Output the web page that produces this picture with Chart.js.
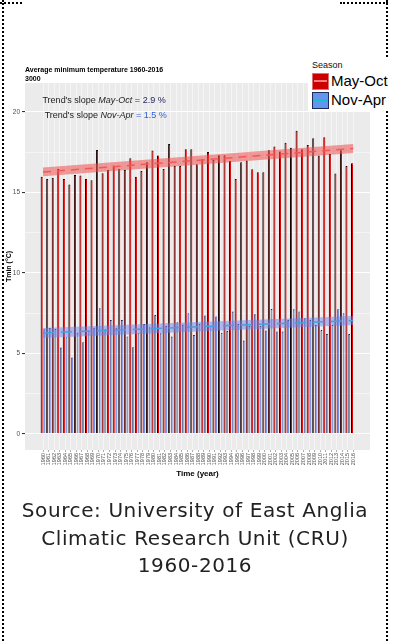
<!DOCTYPE html>
<html>
<head>
<meta charset="utf-8">
<script src="https://cdn.jsdelivr.net/npm/chart.js@4.4.0/dist/chart.umd.min.js"></script>
<style>
  html, body { margin: 0; padding: 0; background: #fff; width: 405px; height: 641px; overflow: hidden; }
  body { position: relative; font-family: "DejaVu Sans", sans-serif; }
  #chart { position: absolute; left: 0; top: 0; }
  .dots { position: absolute; border-color: #3a3a3a; }
  #frameL { left: 2px; top: 0; height: 641px; border-left: 2px dotted; }
  #frameR { left: 386px; top: 0; height: 641px; border-left: 2px dotted; }
  #frameT1 { left: 0; top: 2px; width: 22px; border-top: 2px dotted; }
  #frameT2 { left: 340px; top: 2px; width: 48px; border-top: 2px dotted; }
  #legend { position: absolute; left: 308px; top: 57px; width: 80px; height: 54px; background: #fff; overflow: hidden; font-family: "Liberation Sans", Arial, sans-serif; }
  #legend .ttl { position: absolute; left: 4px; top: 3px; font-size: 9px; color: #111; }
  #legend .key { position: absolute; left: 4px; width: 15px; height: 15px; box-sizing: content-box; }
  #legend .key i { position: absolute; left: 1px; right: 1px; top: 6px; height: 2px; }
  #legend .lbl { position: absolute; left: 23px; font-size: 15px; color: #000; white-space: nowrap; }
  #source { position: absolute; left: 3px; width: 384px; top: 497px; text-align: center; font-size: 20px; letter-spacing: 0.6px; line-height: 27.5px; color: #222; }
</style>
</head>
<body>
<canvas id="chart" width="405" height="480"></canvas>

<div class="dots" id="frameL"></div>
<div class="dots" id="frameR"></div>
<div class="dots" id="frameT1"></div>
<div class="dots" id="frameT2"></div>

<div id="legend">
  <div class="ttl">Season</div>
  <div class="key" style="top:16px; background:#cc0000; border:1px solid #e07070;"><i style="background:#ff7b7b"></i></div>
  <div class="lbl" style="top:15px;">May-Oct</div>
  <div class="key" style="top:35px; background:#6495ed; border:1px solid #1d2b5e;"><i style="background:#14c0cc"></i></div>
  <div class="lbl" style="top:34px;">Nov-Apr</div>
</div>

<div id="source">Source: University of East Anglia<br>Climatic Research Unit (CRU)<br>1960-2016</div>

<script>
// years on the x axis
const years = [1960, 1961, 1962, 1963, 1964, 1965, 1966, 1967, 1968, 1969,
  1970, 1971, 1972, 1973, 1974, 1975, 1976, 1977, 1978, 1979,
  1980, 1981, 1982, 1983, 1984, 1985, 1986, 1987, 1988, 1989,
  1990, 1991, 1992, 1993, 1994, 1995, 1996, 1997, 1998, 1999,
  2000, 2001, 2002, 2003, 2004, 2005, 2006, 2007, 2008, 2009,
  2010, 2011, 2012, 2013, 2014, 2015, 2016];

// Tmin (°C) May-Oct
const mayOct = [15.98, 15.84, 15.92, 16.46, 15.84, 15.5, 16.09, 16.05, 15.84, 15.76,
  17.64, 16.19, 16.4, 16.67, 16.48, 16.4, 17.12, 15.98, 16.33, 16.88,
  17.6, 17.29, 16.46, 18.01, 16.65, 16.65, 17.68, 17.68, 16.75, 17.06,
  17.52, 17.02, 17.31, 17.31, 16.96, 15.84, 16.88, 16.98, 16.44, 16.25,
  16.25, 17.62, 17.85, 17.54, 18.09, 17.78, 18.84, 17.68, 17.95, 18.37,
  17.29, 18.43, 17.39, 16.17, 17.62, 16.65, 16.81];

// Tmin (°C) Nov-Apr (2016 season not complete)
const novApr = [6.5, 6.6, 6.52, 5.37, 6.0, 4.75, 6.29, 5.7, 6.43, 6.6,
  7.8, 6.5, 7.08, 6.6, 7.08, 6.05, 5.38, 6.25, 6.83, 6.63,
  7.39, 6.25, 6.7, 6.05, 6.94, 6.8, 7.5, 6.15, 6.83, 7.35,
  6.7, 7.29, 6.29, 6.4, 7.6, 6.83, 5.8, 6.7, 7.43, 6.7,
  6.42, 7.76, 6.36, 6.36, 7.08, 7.75, 7.6, 7.19, 7.08, 6.77,
  6.46, 6.21, 6.77, 7.75, 7.5, 6.21, null];

// trend lines + confidence band, at first and last year
const trendYears = [1960, 2016];
const mayOctTrend = [16.27, 17.73];
const mayOctBandLow = [16.0, 17.45];
const mayOctBandHigh = [16.55, 18.01];
const novAprTrend = [6.27, 7.04];
const novAprBandLow = [5.96, 6.77];
const novAprBandHigh = [6.58, 7.33];

const yTicks = [0, 2.5, 5, 7.5, 10, 12.5, 15, 17.5, 20];

const titleText = "Average minimum temperature 1960-2016";
const subTitleText = "3000";
const slopeLines = [
  ["Trend's slope ", "May-Oct", " = 2.9 %", "#1c1f5c"],
  ["Trend's slope ", "Nov-Apr", " = 1.5 %", "#2f5fd0"]
];

const FONT = '"Liberation Sans", Arial, sans-serif';

// {x,y} points for linear x axis
function toPoints(xs, ys) {
  return xs.map((x, i) => ({ x: x, y: ys[i] }));
}

// grey ggplot panel
const panelBg = {
  id: 'panelBg',
  beforeDraw(chart) {
    const a = chart.chartArea, ctx = chart.ctx;
    ctx.save();
    ctx.fillStyle = '#ebebeb';
    ctx.fillRect(a.left, a.top, a.right - a.left, a.bottom - a.top);
    ctx.restore();
  }
};

// title and slope notes
const textLayer = {
  id: 'textLayer',
  afterDraw(chart) {
    const ctx = chart.ctx, a = chart.chartArea;
    const xs = chart.scales.x, ys = chart.scales.y;
    ctx.save();
    ctx.textBaseline = 'alphabetic';
    ctx.fillStyle = '#000';
    ctx.font = 'bold 7px ' + FONT;
    ctx.fillText(titleText, a.left, 72);
    ctx.fillText(subTitleText, a.left, 81);

    const rows = [[1959.9, 20.56], [1960.3, 19.63]];
    slopeLines.forEach((parts, i) => {
      let x = xs.getPixelForValue(rows[i][0]);
      const y = ys.getPixelForValue(rows[i][1]);
      ctx.font = '9px ' + FONT;
      ctx.fillStyle = '#222';
      ctx.fillText(parts[0], x, y);
      x += ctx.measureText(parts[0]).width;
      ctx.font = 'italic 9px ' + FONT;
      ctx.fillText(parts[1], x, y);
      x += ctx.measureText(parts[1]).width;
      ctx.font = '9px ' + FONT;
      ctx.fillStyle = parts[3];
      ctx.fillText(parts[2], x, y);
    });
    ctx.restore();
  }
};

const lineBase = { type: 'line', pointRadius: 0, order: 0, tension: 0 };

new Chart(document.getElementById('chart'), {
  type: 'bar',
  data: {
    datasets: [
      Object.assign({}, lineBase, { data: toPoints(trendYears, mayOctBandHigh), borderWidth: 0, fill: false }),
      Object.assign({}, lineBase, { data: toPoints(trendYears, mayOctBandLow), borderWidth: 0, fill: '-1', backgroundColor: 'rgba(236,80,80,0.55)' }),
      Object.assign({}, lineBase, { data: toPoints(trendYears, mayOctTrend), borderWidth: 1.5, borderColor: 'rgba(255,90,90,0.95)', borderDash: [8, 6], fill: false }),
      Object.assign({}, lineBase, { data: toPoints(trendYears, novAprBandHigh), borderWidth: 0, fill: false }),
      Object.assign({}, lineBase, { data: toPoints(trendYears, novAprBandLow), borderWidth: 0, fill: '-1', backgroundColor: 'rgba(110,130,235,0.5)' }),
      Object.assign({}, lineBase, { data: toPoints(trendYears, novAprTrend), borderWidth: 1.5, borderColor: '#17c3cf', borderDash: [11, 7], fill: false }),
      {
        label: 'May-Oct',
        data: toPoints(years, mayOct),
        backgroundColor: '#e10000',
        borderColor: '#140000',
        borderWidth: { left: 1, top: 1, right: 0, bottom: 0 },
        categoryPercentage: 0.96,
        barPercentage: 0.8,
        order: 1
      },
      {
        label: 'Nov-Apr',
        data: toPoints(years, novApr),
        backgroundColor: '#7393ea',
        borderColor: '#1b2450',
        borderWidth: { left: 0.7, top: 1, right: 0, bottom: 0 },
        categoryPercentage: 0.96,
        barPercentage: 0.7,
        order: 1
      }
    ]
  },
  options: {
    responsive: false,
    animation: false,
    layout: { padding: { top: 83, right: 35, left: 0, bottom: 0 } },
    plugins: { legend: { display: false }, tooltip: { enabled: false } },
    scales: {
      x: {
        type: 'linear',
        min: 1956.75,
        max: 2019,
        offset: false,
        afterBuildTicks: s => { s.ticks = years.map(v => ({ value: v })); },
        afterFit: s => { s.height = 30; },
        border: { display: false },
        grid: { offset: false, color: 'rgba(255,255,255,0.85)', lineWidth: 0.6, tickColor: '#777', tickLength: 2 },
        ticks: {
          autoSkip: false, minRotation: 90, maxRotation: 90, padding: 1,
          color: '#4d4d4d', font: { family: FONT, size: 5.5 },
          callback: v => String(v)
        },
        title: { display: true, text: 'Time (year)', color: '#000', font: { family: FONT, size: 8, weight: 'bold' }, padding: { top: 0, bottom: 1 } }
      },
      y: {
        min: -1,
        max: 21.8,
        afterBuildTicks: s => { s.ticks = yTicks.map(v => ({ value: v })); },
        afterFit: s => { s.width = 25; },
        border: { display: false },
        grid: {
          color: '#fff',
          lineWidth: c => (c.tick && c.tick.value % 5 === 0 ? 1.1 : 0.5),
          tickColor: c => (c.tick && c.tick.value % 5 === 0 ? '#333' : 'rgba(0,0,0,0)'),
          tickLength: 3
        },
        ticks: {
          autoSkip: false, padding: 2, color: '#4d4d4d',
          font: { family: FONT, size: 6.5 },
          callback: v => (v % 5 === 0 ? String(v) : '')
        },
        title: { display: true, text: 'Tmin (°C)', color: '#000', font: { family: FONT, size: 7, weight: 'bold' }, padding: { top: 5, bottom: 0 } }
      }
    }
  },
  plugins: [panelBg, textLayer]
});
</script>
</body>
</html>
